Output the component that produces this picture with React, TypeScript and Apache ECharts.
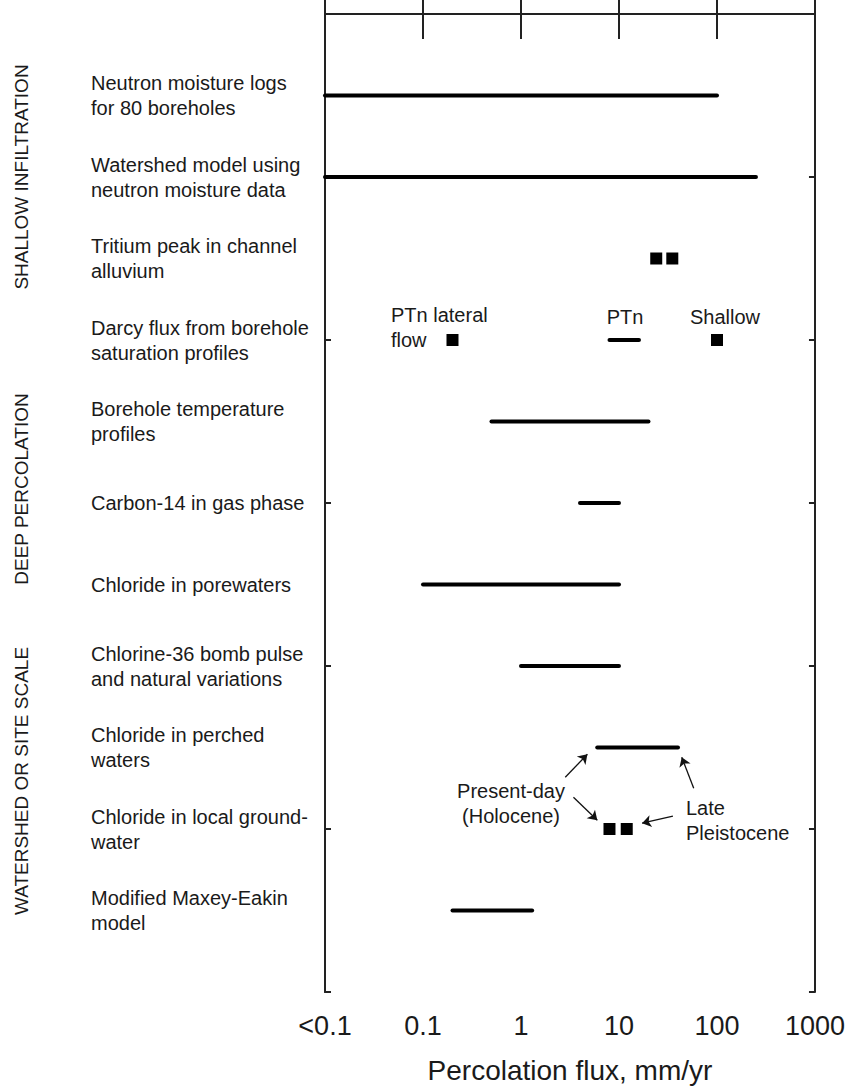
import React, { useEffect, useRef } from "react";
import * as echarts from "echarts";

// Row labels (top to bottom)
const categories = [
  "Neutron moisture logs\nfor 80 boreholes",
  "Watershed model using\nneutron moisture data",
  "Tritium peak in channel\nalluvium",
  "Darcy flux from borehole\nsaturation profiles",
  "Borehole temperature\nprofiles",
  "Carbon-14 in gas phase",
  "Chloride in porewaters",
  "Chlorine-36 bomb pulse\nand natural variations",
  "Chloride in perched\nwaters",
  "Chloride in local ground-\nwater",
  "Modified Maxey-Eakin\nmodel",
];

// Range estimates (mm/yr); 0.01 stands for "<0.1"
const rangeRows = [0, 1, 3, 4, 5, 6, 7, 8, 10];
const rangeLow = [0.01, 0.01, 8, 0.5, 4, 0.1, 1, 6, 0.2];
const rangeHigh = [100, 250, 16, 20, 10, 10, 10, 40, 1.3];

// Point estimates (mm/yr)
const pointRows = [2, 2, 3, 3, 9, 9];
const pointValues = [24, 35, 0.2, 100, 8, 12];

// x tick labels for decades 0.01 ... 1000
const xTickLabels = ["<0.1", "0.1", "1", "10", "100", "1000"];

const groupLabels = ["SHALLOW INFILTRATION", "DEEP PERCOLATION", "WATERSHED OR SITE SCALE"];

// Annotation arrows: [fromX, fromY, toX, toY] in data space (axis row units)
const arrows = [
  [2.83, 9.365, 4.76, 9.083],
  [3.43, 9.61, 6.01, 9.892],
  [57.9, 9.5, 43.7, 9.12],
  [35.5, 9.843, 17.2, 9.929],
];

const FONT = "'Liberation Sans', Arial, Helvetica, sans-serif";
const TXT = "#1a1a1a";

export default function App() {
  const ref = useRef<HTMLDivElement>(null);
  useEffect(() => {
    if (!ref.current) return;
    const chart = echarts.init(ref.current, undefined, { renderer: "svg" });

    const rangeData = rangeRows.map((r, i) => [r + 1, rangeLow[i], rangeHigh[i]]);
    const pointData = pointRows.map((r, i) => [pointValues[i], r + 1]);

    const xBase = {
      type: "log",
      logBase: 10,
      min: 0.01,
      max: 1000,
      splitLine: { show: false },
      minorTick: { show: false },
      axisLine: { show: true, lineStyle: { color: "#222", width: 2 } },
      axisTick: { show: true, inside: true, length: 25, lineStyle: { color: "#222", width: 2 } },
    };
    const yBase = {
      type: "value",
      min: 0,
      max: 12,
      inverse: true,
      splitLine: { show: false },
      axisLine: { show: true, lineStyle: { color: "#222", width: 2 } },
    };

    const option: any = {
      animation: false,
      backgroundColor: "#fff",
      textStyle: { fontFamily: FONT },
      grid: { left: 325, right: 29, top: 14, bottom: 96, containLabel: false },
      xAxis: [
        {
          ...xBase,
          position: "bottom",
          axisLabel: {
            show: true,
            margin: 20,
            fontSize: 27,
            color: TXT,
            fontFamily: FONT,
            formatter: (v: number) => xTickLabels[Math.round(Math.log10(v)) + 2] ?? "",
          },
          name: "Percolation flux, mm/yr",
          nameLocation: "middle",
          nameGap: 64,
          nameTextStyle: { fontSize: 28, color: TXT, fontFamily: FONT },
        },
        {
          ...xBase,
          position: "top",
          axisLabel: { show: false },
        },
      ],
      yAxis: [
        {
          ...yBase,
          position: "left",
          interval: 1,
          axisTick: { show: false },
          axisLabel: {
            show: true,
            align: "left",
            margin: 234,
            fontSize: 20,
            lineHeight: 25,
            color: TXT,
            fontFamily: FONT,
            formatter: (v: number) => categories[v - 1] ?? "",
          },
        },
        {
          ...yBase,
          position: "right",
          interval: 2,
          axisLabel: { show: false },
          axisTick: { show: true, inside: true, length: 6, lineStyle: { color: "#222", width: 2 } },
        },
        {
          ...yBase,
          position: "left",
          offset: 0,
          interval: 2,
          axisLabel: { show: false },
          axisTick: { show: true, inside: true, length: 6, lineStyle: { color: "#222", width: 2 } },
        },
      ],
      series: [
        {
          type: "custom",
          xAxisIndex: 0,
          yAxisIndex: 0,
          encode: { x: [1, 2], y: 0 },
          data: rangeData,
          renderItem: (params: any, api: any) => {
            const row = api.value(0);
            const p1 = api.coord([api.value(1), row]);
            const p2 = api.coord([api.value(2), row]);
            return {
              type: "line",
              shape: { x1: p1[0], y1: p1[1], x2: p2[0], y2: p2[1] },
              style: { stroke: "#000", lineWidth: 4, lineCap: "round" },
            };
          },
        },
        {
          type: "scatter",
          xAxisIndex: 0,
          yAxisIndex: 0,
          symbol: "rect",
          symbolSize: 12,
          itemStyle: { color: "#000", opacity: 1 },
          data: pointData,
          markLine: {
            silent: true,
            symbol: ["none", "arrow"],
            symbolSize: 9,
            label: { show: false },
            lineStyle: { color: "#111", width: 1.3, type: "solid", opacity: 1 },
            data: arrows.map((a) => [{ coord: [a[0], a[1]] }, { coord: [a[2], a[3]] }]),
          },
        },
      ],
      graphic: [
        ...[177, 489, 781].map((cy, i) => ({
          type: "text",
          x: 21,
          y: cy,
          rotation: Math.PI / 2,
          style: {
            text: groupLabels[i],
            fontSize: 19,
            fontFamily: FONT,
            fill: TXT,
            align: "center",
            verticalAlign: "middle",
          },
        })),
        {
          type: "text",
          x: 391,
          y: 327,
          style: { text: "PTn lateral\nflow", fontSize: 20, lineHeight: 25, fontFamily: FONT, fill: TXT, align: "left", verticalAlign: "middle" },
        },
        {
          type: "text",
          x: 625,
          y: 317,
          style: { text: "PTn", fontSize: 20, fontFamily: FONT, fill: TXT, align: "center", verticalAlign: "middle" },
        },
        {
          type: "text",
          x: 725,
          y: 317,
          style: { text: "Shallow", fontSize: 20, fontFamily: FONT, fill: TXT, align: "center", verticalAlign: "middle" },
        },
        {
          type: "text",
          x: 511,
          y: 803,
          style: { text: "Present-day\n(Holocene)", fontSize: 20, lineHeight: 25, fontFamily: FONT, fill: TXT, align: "center", verticalAlign: "middle" },
        },
        {
          type: "text",
          x: 686,
          y: 820,
          style: { text: "Late\nPleistocene", fontSize: 20, lineHeight: 25, fontFamily: FONT, fill: TXT, align: "left", verticalAlign: "middle" },
        },
      ],
    };

    chart.setOption(option);
    return () => chart.dispose();
  }, []);

  return (
    <div
      ref={ref}
      style={{ position: "absolute", left: 0, top: 0, width: 848, height: 1089, background: "#fff" }}
    />
  );
}
